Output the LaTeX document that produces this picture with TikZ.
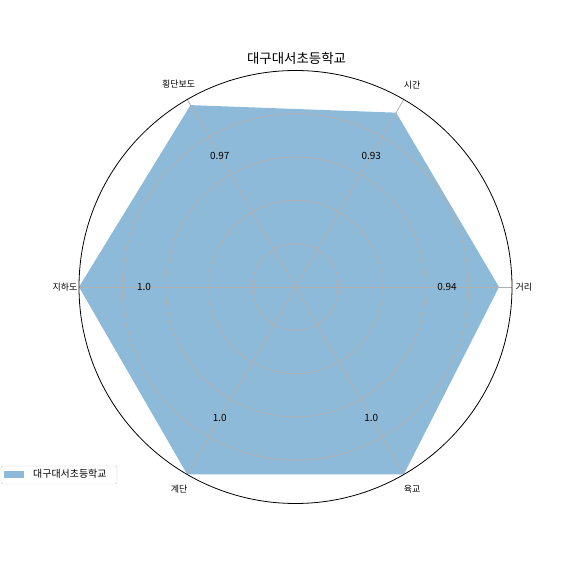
\documentclass[tikz,border=0pt]{standalone}
\usepackage{fontspec}
\newfontfamily\kr{Noto Sans CJK KR}
\usetikzlibrary{calc}
\definecolor{radarfill}{HTML}{8EBAD9}
\definecolor{gridgray}{HTML}{B0B0B0}
\definecolor{legendedge}{HTML}{CCCCCC}

\begin{document}
\begin{tikzpicture}[x=1bp, y=1bp, font=\kr\fontsize{9}{11}\selectfont,
        gridline/.style={gridgray, line width=0.8bp},
        valuelabel/.style={inner sep=0pt, font=\kr\fontsize{10}{12}\selectfont}]
        \useasboundingbox (0,0) rectangle (576,576);
        \coordinate (O) at (295.5,289);
        \fill[radarfill] ($(O)+(0:203.5)$) -- ($(O)+(60:201.3)$) -- ($(O)+(120:210)$) -- ($(O)+(180:216.5)$) -- ($(O)+(240:216.5)$) -- ($(O)+(300:216.5)$) -- cycle;
        \foreach \r in {0.2,0.4,0.6,0.8} \draw[gridline] (O) circle (\r*216.5);
        \foreach \a in {0,60,...,300} \draw[gridline] (O) -- ++(\a:216.5);
        \draw[black, line width=0.8bp] (O) circle (216.5);
        \node[anchor=west, inner sep=0pt] (geori) at ($(O)+(0:220)$) {거리};
        \node[inner sep=0pt] (sigan) at ($(O)+(60:233)$) {시간};
        \node[inner sep=0pt] (hoengdan) at ($(O)+(120:234)$) {횡단보도};
        \node[anchor=east, inner sep=0pt] (jiha) at ($(O)+(180:218)$) {지하도};
        \node[inner sep=0pt] (gyedan) at ($(O)+(240:233)$) {계단};
        \node[inner sep=0pt] (yukgyo) at ($(O)+(300:233)$) {육교};
        \node[valuelabel] (v-geori) at ($(O)+(0:151.5)$) {0.94};
        \node[valuelabel] (v-sigan) at ($(O)+(60:151.5)$) {0.93};
        \node[valuelabel] (v-hoengdan) at ($(O)+(120:151.5)$) {0.97};
        \node[valuelabel] (v-jiha) at ($(O)+(180:151.5)$) {1.0};
        \node[valuelabel] (v-gyedan) at ($(O)+(240:151.5)$) {1.0};
        \node[valuelabel] (v-yukgyo) at ($(O)+(300:151.5)$) {1.0};
        \node[font=\kr\fontsize{13.5}{16}\selectfont] (title) at (296.5,518) {대구대서초등학교};
        % legend
        \draw[legendedge, fill=white, rounded corners=2bp] (1,92) rectangle (117,110);
        \fill[radarfill] (4,98.3) rectangle (24,105);
        \node[anchor=west, inner sep=0pt, font=\kr\fontsize{10}{12}\selectfont] (legend) at (33,102.5) {대구대서초등학교};
    \end{tikzpicture}
\end{document}
